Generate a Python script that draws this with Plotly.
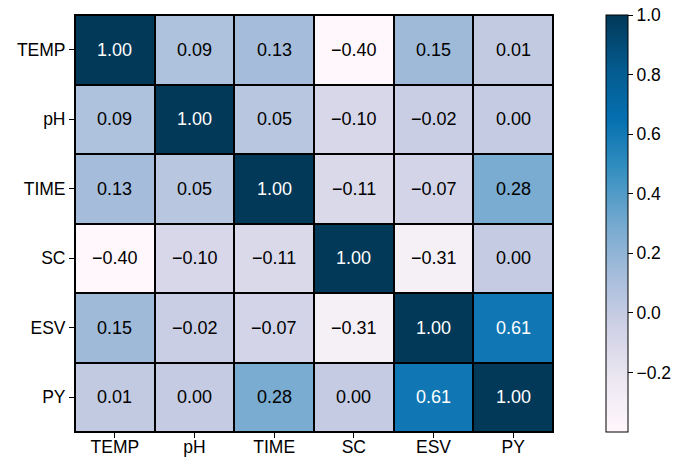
import plotly.graph_objects as go

# Variables of the correlation matrix
labels = ["TEMP", "pH", "TIME", "SC", "ESV", "PY"]

# Pearson correlation coefficients, one row per variable
row_temp = [1.00, 0.09, 0.13, -0.40, 0.15, 0.01]
row_ph = [0.09, 1.00, 0.05, -0.10, -0.02, 0.00]
row_time = [0.13, 0.05, 1.00, -0.11, -0.07, 0.28]
row_sc = [-0.40, -0.10, -0.11, 1.00, -0.31, 0.00]
row_esv = [0.15, -0.02, -0.07, -0.31, 1.00, 0.61]
row_py = [0.01, 0.00, 0.28, 0.00, 0.61, 1.00]

matrix = [row_temp, row_ph, row_time, row_sc, row_esv, row_py]

cbar_ticks = [-0.2, 0.0, 0.2, 0.4, 0.6, 0.8, 1.0]
cbar_ticktext = ["\u22120.2", "0.0", "0.2", "0.4", "0.6", "0.8", "1.0"]

FONT = "Liberation Sans, Arial, sans-serif"
TICK_SIZE = 17.5
CELL_SIZE = 18
zmin, zmax = -0.40, 1.0


def fmt(v):
    s = f"{abs(v):.2f}"
    return ("\u2212" + s) if v < 0 else s


fig = go.Figure(
    go.Heatmap(
        z=matrix,
        x=labels,
        y=labels,
        colorscale="PuBu",
        zmin=zmin,
        zmax=zmax,
        xgap=2,
        ygap=2,
        hoverinfo="skip",
        colorbar=dict(
            x=1.111,
            xanchor="left",
            y=0.5,
            yanchor="middle",
            len=1.0,
            lenmode="fraction",
            thickness=22,
            outlinecolor="black",
            outlinewidth=1,
            tickvals=cbar_ticks,
            ticktext=cbar_ticktext,
            ticks="outside",
            ticklen=5,
            tickcolor="black",
            tickfont=dict(family=FONT, size=TICK_SIZE, color="black"),
            xpad=0,
            ypad=0,
        ),
    )
)

# Value labels in each cell; light text on the dark cells
annotations = []
for i, row_name in enumerate(labels):
    for j, col_name in enumerate(labels):
        v = matrix[i][j]
        annotations.append(
            dict(
                x=col_name,
                y=row_name,
                text=fmt(v),
                showarrow=False,
                font=dict(family=FONT, size=CELL_SIZE,
                          color="white" if v > 0.5 else "black"),
            )
        )

fig.update_layout(
    width=688,
    height=457,
    margin=dict(l=75, r=135, t=15, b=25, autoexpand=False),
    paper_bgcolor="white",
    plot_bgcolor="black",
    annotations=annotations,
    font=dict(family=FONT, size=TICK_SIZE, color="black"),
)

axis_style = dict(
    showgrid=False,
    zeroline=False,
    automargin=False,
    ticks="outside",
    ticklen=5,
    tickcolor="black",
    showline=True,
    linecolor="black",
    linewidth=1,
    mirror=True,
    tickfont=dict(family=FONT, size=TICK_SIZE, color="black"),
)
fig.update_xaxes(ticklabelstandoff=-6, **axis_style)
fig.update_yaxes(autorange="reversed", **axis_style)

fig.write_html("out.html")
